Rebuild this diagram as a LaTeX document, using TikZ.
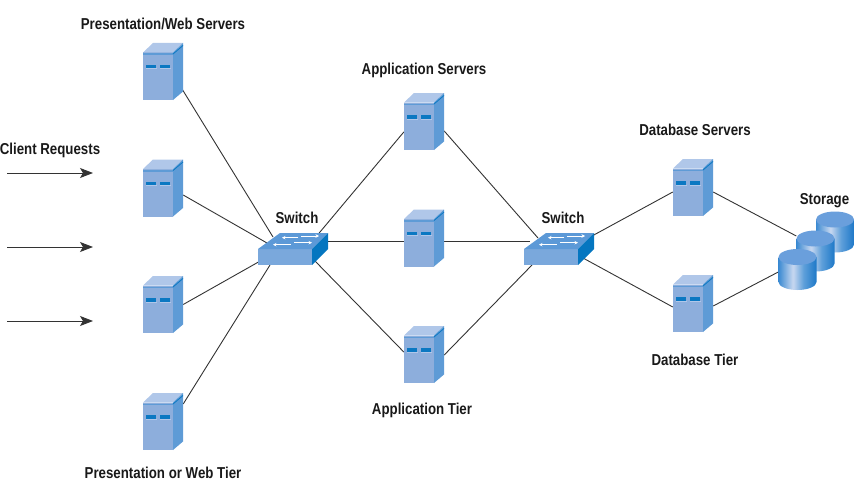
\documentclass[tikz,border=0pt]{standalone}
\usepackage{fontspec}
\setmainfont{Liberation Sans}[FakeStretch=0.84]
\usetikzlibrary{backgrounds,arrows.meta}
\definecolor{srvfront}{HTML}{8DAEDC}
\definecolor{srvtop}{HTML}{B0C7E9}
\definecolor{srvside}{HTML}{5E9BD6}
\definecolor{slotblue}{HTML}{0B78C2}
\definecolor{swtop}{HTML}{5C99D7}
\definecolor{swfront}{HTML}{7AA8DC}
\definecolor{swside}{HTML}{0576C0}
\definecolor{cylleft}{HTML}{3B8AD2}
\definecolor{cylmid}{HTML}{C8D8F0}
\definecolor{cylsoft}{HTML}{5E9FDA}
\definecolor{cylright}{HTML}{1E78C8}
\definecolor{cyltop}{HTML}{6A9FDC}
\definecolor{linkgrey}{HTML}{333333}
\pgfdeclarehorizontalshading{cylbody}{100bp}{
    color(0bp)=(cylleft); color(25bp)=(cylleft); color(44bp)=(cylmid); color(58bp)=(cylsoft); color(75bp)=(cylright); color(100bp)=(cylright)}
\tikzset{
    lbl/.style={font=\fontsize{15.8}{17}\selectfont\bfseries,inner sep=0pt,text=black!90},
    link/.style={linkgrey,line width=.9pt},
    reqarrow/.style={linkgrey,line width=.9pt,-{Stealth[length=13pt,width=10pt,inset=3pt]}},
    swarrow/.style={white,line width=.8pt,-{Stealth[length=3.5pt,width=3.5pt]}},
    server/.pic={
        \node[minimum width=40pt,minimum height=57pt,inner sep=0pt] (-box) at (0,0) {};
        \fill[srvfront] (-20,-19) rectangle (10,28.5);
        \fill[srvtop] (-20,-19) -- (-10,-28.5) -- (20,-28.5) -- (10,-19) -- cycle;
        \fill[srvside] (10,-19) -- (20,-28.5) -- (20,20) -- (10,28.5) -- cycle;
        \fill[srvside] (-20,-18) rectangle (10,-16.5);
        \draw[slotblue,line width=.8pt] (10,-17.5) -- (20,-26);
        \fill[srvtop] (-17.5,-3) rectangle (-6.5,-2);
        \fill[srvtop] (-3.5,-3) rectangle (7.5,-2);
        \fill[slotblue] (-17,-6.5) rectangle (-7,-3);
        \fill[slotblue] (-3,-6.5) rectangle (7,-3);
    },
    switchbox/.pic={
        \node[minimum width=69pt,minimum height=32pt,inner sep=0pt] (-box) at (0,0) {};
        \fill[swfront] (-35.5,0) rectangle (18.5,16);
        \fill[swtop] (-35.5,0) -- (-13.5,-16) -- (34.5,-16) -- (18.5,0) -- cycle;
        \fill[swside] (18.5,0) -- (34.5,-16) -- (34.5,0) -- (18.5,16) -- cycle;
        \draw[swarrow] (4.8,-11.3) -- (-11.5,-11.3);
        \draw[swarrow] (7.5,-13) -- (25.5,-13);
        \draw[swarrow] (-2.5,-4.3) -- (-20.5,-4.3);
        \draw[swarrow] (0.5,-6.3) -- (18.5,-6.3);
    },
    disk/.pic={
        \node[minimum width=38pt,minimum height=41pt,inner sep=0pt] (-box) at (0,0) {};
        \shade[shading=cylbody]
            (-19,-12.5) -- (-19,12.5) arc[start angle=180,end angle=360,x radius=19,y radius=-8] -- (19,-12.5) -- cycle;
        \fill[cyltop] (0,-12.5) ellipse[x radius=19,y radius=8];
    },
}
\begin{document}
\begin{tikzpicture}[x=1pt,y=-1pt]
	\useasboundingbox (0,0) rectangle (854,487);
	\pic (web1) at (163,71.5) {server};
	\pic (web2) at (163,188) {server};
	\pic (web3) at (163,304.5) {server};
	\pic (web4) at (163,421.5) {server};
	\pic (app1) at (424,121.5) {server};
	\pic (app2) at (424,238) {server};
	\pic (app3) at (424,354.5) {server};
	\pic (db1) at (693,187.5) {server};
	\pic (db2) at (693,303.5) {server};
	\pic (sw1) at (293.5,249) {switchbox};
	\pic (sw2) at (559.5,249) {switchbox};
	\pic (disk3) at (835,232) {disk};
	\pic (disk2) at (815.5,251) {disk};
	\pic (disk1) at (797.5,269.5) {disk};
	% client side
	\node[lbl] (lblclient) at (50,150) {Client Requests};
	\coordinate (req1a) at (7,173);
	\coordinate (req1b) at (93,173);
	\coordinate (req2a) at (7,247);
	\coordinate (req2b) at (93,247);
	\coordinate (req3a) at (7,321);
	\coordinate (req3b) at (93,321);
	\draw[reqarrow] (req1a) -- (req1b);
	\draw[reqarrow] (req2a) -- (req2b);
	\draw[reqarrow] (req3a) -- (req3b);
	% labels
	\node[lbl] (lblweb) at (163,24) {Presentation/Web Servers};
	\node[lbl] (lblwebtier) at (163,473) {Presentation or Web Tier};
	\node[lbl] (lblapp) at (424,70) {Application Servers};
	\node[lbl] (lblapptier) at (422,410) {Application Tier};
	\node[lbl] (lbldb) at (695,130) {Database Servers};
	\node[lbl] (lbldbtier) at (695,360) {Database Tier};
	\node[lbl] (lblsw1) at (297,218) {Switch};
	\node[lbl] (lblsw2) at (563,218) {Switch};
	\node[lbl] (lblstore) at (824.5,201) {Storage};
	% links go under the boxes
	\begin{scope}[on background layer]
		\draw[link] ([xshift=-3pt,yshift=-14.5pt]web1-box.east) -- ([xshift=-20.5pt,yshift=12pt]sw1-box.center);
		\draw[link] ([yshift=-7pt]web2-box.east) -- ([xshift=-26.5pt,yshift=6pt]sw1-box.center);
		\draw[link] (web3-box.east) -- ([xshift=-31.5pt,yshift=-11pt]sw1-box.center);
		\draw[link] ([yshift=17.5pt]web4-box.east) -- ([xshift=-23.5pt,yshift=-16pt]sw1-box.center);
		\draw[link] ([yshift=-10.5pt]app1-box.west) -- ([xshift=24.5pt,yshift=14.6pt]sw1-box.center);
		\draw[link] ([yshift=-3pt]app2-box.west) -- ([xshift=31.5pt,yshift=8pt]sw1-box.center);
		\draw[link] ([yshift=2.5pt]app3-box.west) -- ([xshift=21.5pt,yshift=-12pt]sw1-box.center);
		\draw[link] ([yshift=-9.5pt]app1-box.east) -- ([xshift=-21.5pt,yshift=11pt]sw2-box.center);
		\draw[link] ([yshift=-3pt]app2-box.east) -- ([xshift=-29.5pt,yshift=8pt]sw2-box.center);
		\draw[link] ([yshift=-.5pt]app3-box.east) -- ([xshift=-27.5pt,yshift=-16pt]sw2-box.center);
		\draw[link] ([yshift=-4.5pt]db1-box.west) -- ([xshift=32.5pt,yshift=13pt]sw2-box.center);
		\draw[link] ([yshift=-3.5pt]db2-box.west) -- ([xshift=23.5pt,yshift=-9pt]sw2-box.center);
		\draw[link] ([yshift=-4.5pt]db1-box.east) -- ([yshift=15pt]disk2-box.west);
		\draw[link] ([yshift=-2.5pt]db2-box.east) -- ([yshift=-2.5pt]disk1-box.west);
	\end{scope}
\end{tikzpicture}
\end{document}
